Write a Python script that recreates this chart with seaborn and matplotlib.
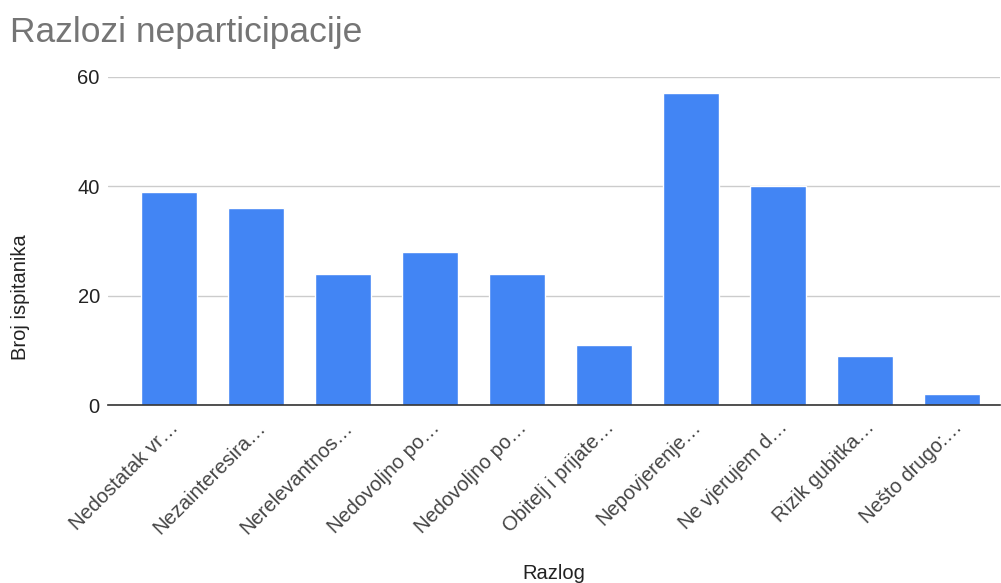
import matplotlib
matplotlib.use('Agg')
import pandas as pd
import seaborn as sns
import matplotlib.pyplot as plt

sns.set_theme(style='white')
plt.rcParams['font.family'] = ['Liberation Sans', 'DejaVu Sans']

# podaci
razlozi = ['Nedostatak vr…', 'Nezainteresira…', 'Nerelevantnos…', 'Nedovoljno po…',
           'Nedovoljno po…', 'Obitelj i prijate…', 'Nepovjerenje…', 'Ne vjerujem d…',
           'Rizik gubitka…', 'Nešto drugo:…']
broj = [39, 36, 24, 28, 24, 11, 57, 40, 9, 2]

df = pd.DataFrame({'pozicija': range(len(razlozi)), 'Broj ispitanika': broj})

fig = plt.figure(figsize=(10.01, 5.83), dpi=100)
ax = fig.add_axes([0.108, 0.305, 0.891, 0.563])

sns.barplot(data=df, x='pozicija', y='Broj ispitanika', color='#4285F4',
            saturation=1, width=0.64, ax=ax, native_scale=True)

ax.set_xlim(-0.7, 9.55)
ax.set_ylim(0, 60)
ax.set_yticks([0, 20, 40, 60])
ax.set_xticks(range(len(razlozi)))
ax.set_xticklabels(razlozi, rotation=45, ha='right', rotation_mode='anchor',
                   fontsize=14.5, color='#444444')
ax.tick_params(axis='y', labelsize=14.5, labelcolor='#222222', length=0, pad=6)
ax.tick_params(axis='x', length=0, pad=9)

ax.yaxis.grid(True, color='#cccccc', linewidth=1)
ax.set_axisbelow(True)
for s in ['top', 'right', 'left']:
    ax.spines[s].set_visible(False)
ax.spines['bottom'].set_color('#333333')
ax.spines['bottom'].set_linewidth(1.2)
ax.spines['bottom'].set_zorder(5)

ax.set_xlabel('Razlog', fontsize=14.5, color='#222222')
ax.xaxis.set_label_coords(0.5, -0.485)
ax.set_ylabel('Broj ispitanika', fontsize=14.5, color='#222222')
ax.yaxis.set_label_coords(-0.088, 0.33)

fig.text(0.01, 0.945, 'Razlozi neparticipacije', fontsize=25.5, color='#757575',
         ha='left', va='center')

fig.savefig('out.png', dpi=100, facecolor='white')
